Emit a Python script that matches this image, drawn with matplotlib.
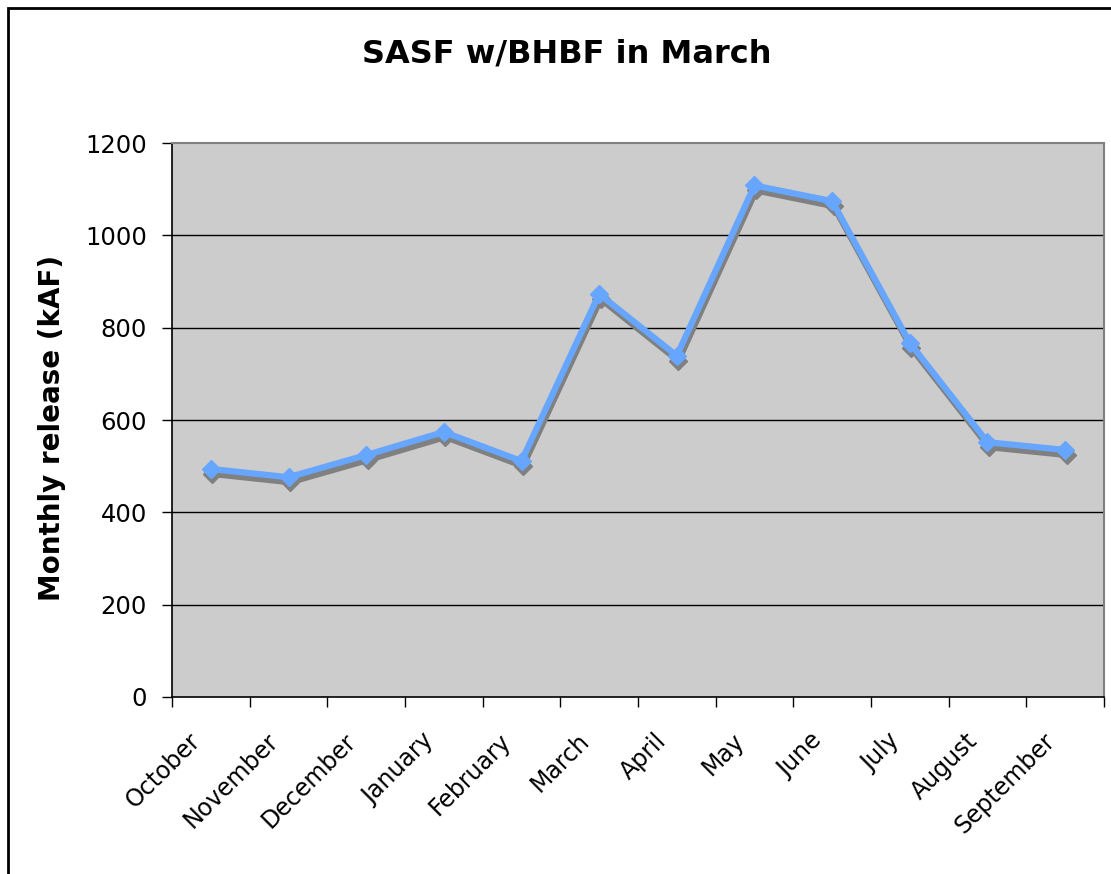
import matplotlib
matplotlib.use("Agg")
import matplotlib.pyplot as plt
import numpy as np
from matplotlib.patches import Rectangle
from matplotlib.transforms import offset_copy, ScaledTranslation

months = ["October", "November", "December", "January", "February", "March",
          "April", "May", "June", "July", "August", "September"]
release = [494, 476, 524, 574, 511, 873, 739, 1108, 1074, 767, 552, 535]
yticks = [0, 200, 400, 600, 800, 1000, 1200]

plt.rcParams['font.family'] = ['DejaVu Sans']

fig = plt.figure(figsize=(11.11, 8.74), dpi=100)
fig.patch.set_facecolor('white')
ax = fig.add_axes([172/1111, 1-697/874, (1104-172)/1111, (697-143)/874])
ax.set_facecolor('#CCCCCC')

x = np.arange(len(months)) + 0.5

for y in yticks[1:-1]:
    ax.axhline(y, color='black', lw=1.0, zorder=1)

shadow = offset_copy(ax.transData, fig=fig, x=1.5, y=-5, units='dots')
ax.plot(x, release, color='#808080', lw=4.5, marker='D', markersize=9,
        transform=shadow, zorder=2, solid_joinstyle='miter')
ax.plot(x, release, color='#66A6FF', lw=4.5, marker='D', markersize=9,
        zorder=3, solid_joinstyle='miter')

ax.set_xlim(0, len(months))
ax.set_ylim(0, 1200)
ax.set_yticks(yticks)
ax.set_yticklabels([str(v) for v in yticks], fontsize=17.5)

ax.set_xticks(np.arange(len(months) + 1), minor=False)
ax.set_xticklabels([])
ax.set_xticks(x, minor=True)
ax.set_xticklabels(months, minor=True, fontsize=17, rotation=45,
                   ha='right', va='center', rotation_mode='anchor')
ax.tick_params(axis='x', which='minor', length=0, pad=29)
ax.tick_params(axis='x', which='major', length=7, width=1, direction='out', color='black')
ax.tick_params(axis='y', length=7, width=1, direction='out', color='black', pad=11)
for lab in ax.get_xticklabels(minor=True):
    lab.set_transform(lab.get_transform() + ScaledTranslation(-0.14, 0, fig.dpi_scale_trans))

for s in ['left', 'bottom']:
    ax.spines[s].set_color('black')
    ax.spines[s].set_linewidth(1.2)
for s in ['top', 'right']:
    ax.spines[s].set_color('#808080')
    ax.spines[s].set_linewidth(1.5)

fig.text(52/1111, 1-428/874, "Monthly release (kAF)", fontsize=20, fontweight='bold',
         rotation=90, ha='center', va='center')

fig.text(567/1111, 1-54/874, "SASF w/BHBF in March", fontsize=23, fontweight='bold',
         ha='center', va='center')

border = Rectangle((8/1111, -0.1), 1.2, 1 - 8/874 + 0.1, transform=fig.transFigure,
                   fill=False, edgecolor='black', linewidth=2, clip_on=False)
fig.patches.append(border)

fig.savefig("out.png", dpi=100)
